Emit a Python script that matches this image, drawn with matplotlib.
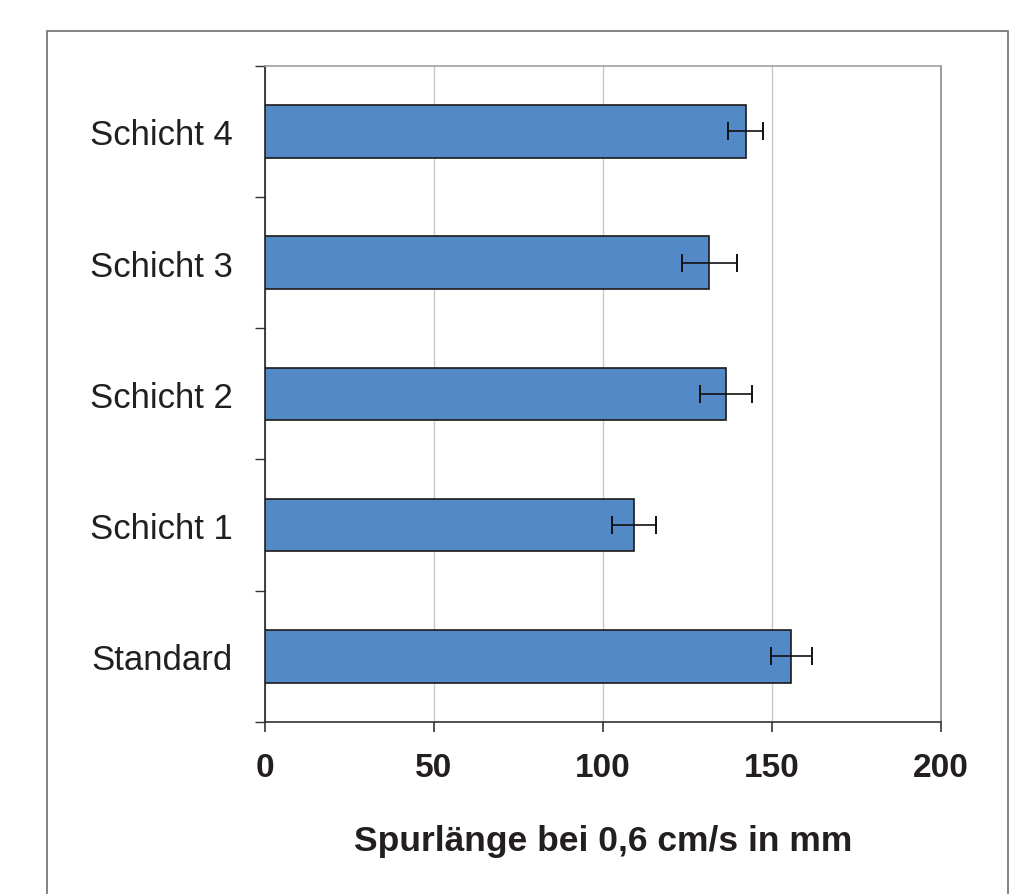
import matplotlib
matplotlib.use('Agg')
import matplotlib.pyplot as plt
from matplotlib.patches import Rectangle
import numpy as np

# data
labels = ['Standard', 'Schicht 1', 'Schicht 2', 'Schicht 3', 'Schicht 4']
werte  = [155.8, 109.1, 136.4, 131.5, 142.3]
fehler = [6.0, 6.5, 7.7, 8.2, 5.2]
xticks = [0, 50, 100, 150, 200]

plt.rcParams['font.family'] = ['Liberation Sans', 'DejaVu Sans']
txtcol = '#231f20'

fig = plt.figure(figsize=(10.09, 8.95), dpi=100)
ax = fig.add_axes([0.2626, 0.1922, 0.6697, 0.7333])

# outer frame of the figure (bottom edge is off the picture)
fig.patches.append(Rectangle((47/1009, -0.1), (1008-47)/1009, 1.1 - 32/895,
                             transform=fig.transFigure, fill=False,
                             edgecolor='#6e6e6e', linewidth=1.2))

y = np.arange(len(labels))
ax.barh(y, werte, height=0.4, color='#5489c8', edgecolor='#1a1a1a',
        linewidth=1.2, zorder=3)
ax.errorbar(werte, y, xerr=fehler, fmt='none', ecolor='#111111',
            elinewidth=1.2, capsize=6.5, capthick=1.4, zorder=4)

ax.set_xlim(0, 200)
ax.set_ylim(-0.5, len(labels) - 0.5)
ax.set_xticks(xticks)
ax.set_xticklabels([str(v) for v in xticks], fontsize=24, fontweight='bold',
                   color=txtcol)
ax.set_yticks(y)
ax.set_yticklabels(labels, fontsize=25, color=txtcol)
ax.set_yticks(np.arange(-0.5, len(labels)), minor=True)

ax.tick_params(axis='y', which='major', length=0, pad=23)
ax.tick_params(axis='y', which='minor', length=7, width=1.0, color='#333333')
ax.tick_params(axis='x', which='major', length=7, width=1.2, color='#333333',
               pad=14.5)

ax.grid(axis='x', color='#c8c8c8', linewidth=1.0, zorder=0)
ax.set_axisbelow(True)

ax.spines['left'].set_color('#222222')
ax.spines['bottom'].set_color('#333333')
ax.spines['top'].set_color('#a0a0a0')
ax.spines['right'].set_color('#8a8a8a')
for s in ax.spines.values():
    s.set_linewidth(1.2)

ax.set_xlabel('Spurlänge bei 0,6 cm/s in mm', fontsize=25.5,
              fontweight='bold', color=txtcol, labelpad=29.5)

fig.savefig('out.png', dpi=100)
